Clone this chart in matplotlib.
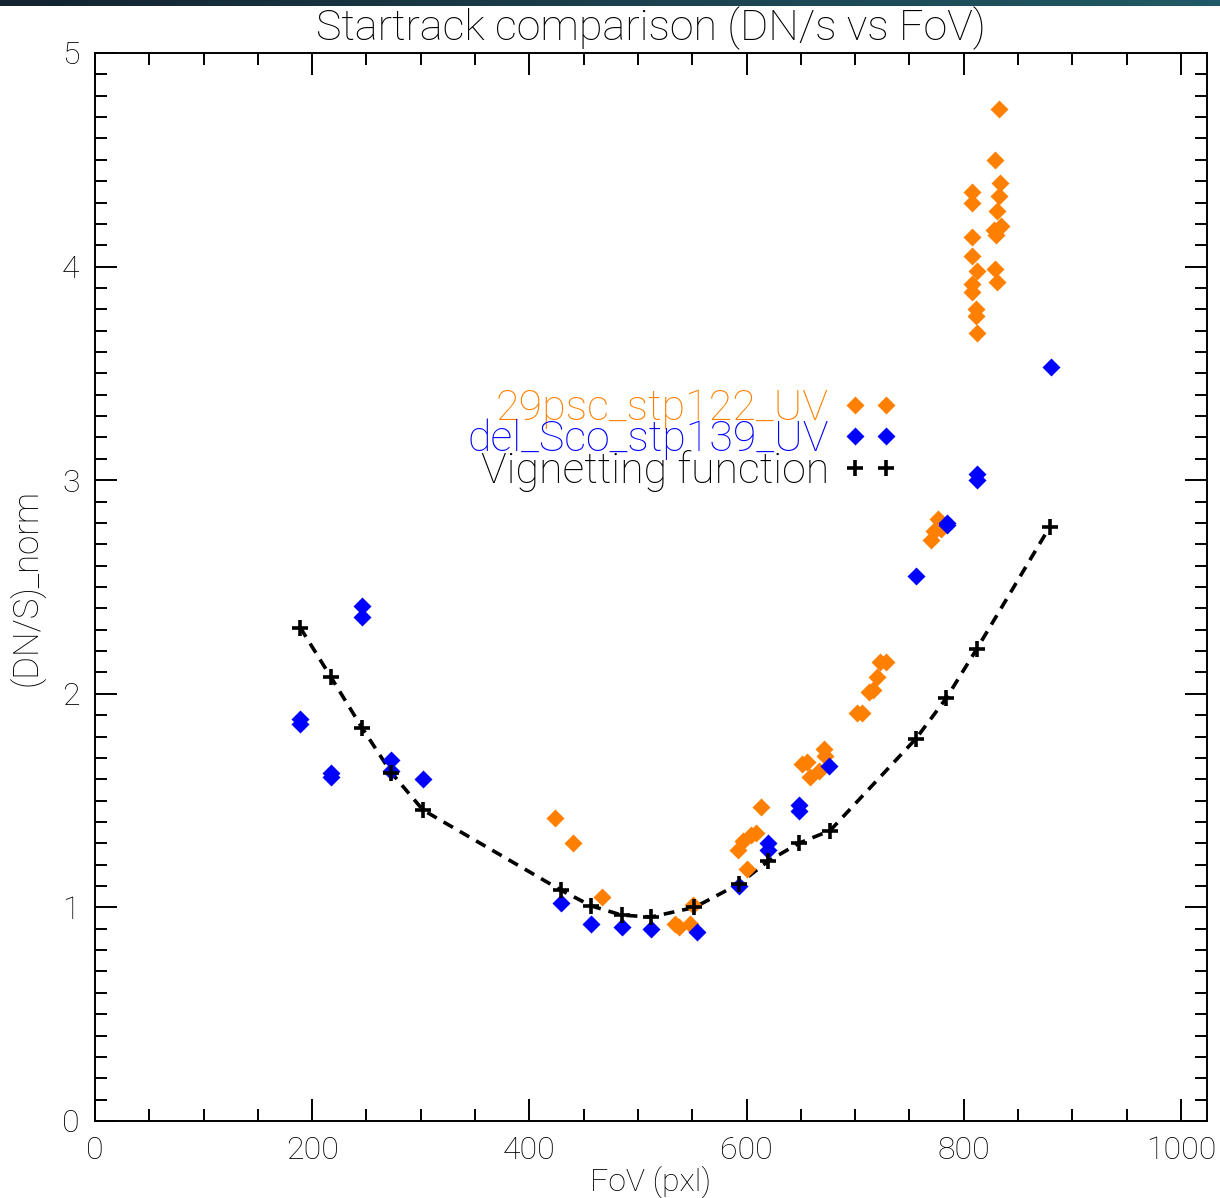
import numpy as np
import matplotlib
matplotlib.use("Agg")
import matplotlib.pyplot as plt
from matplotlib.ticker import MultipleLocator
from matplotlib.colors import LinearSegmentedColormap

# === Dados ===
# 29psc_stp122_UV
x_psc = [424, 440, 467, 534, 538, 548, 551, 592, 597, 600, 604, 609, 613,
         651, 656, 658, 667, 671, 672, 702, 706, 713, 716, 720, 723, 728,
         770, 773, 776, 779,
         808, 808, 808, 808, 812, 808, 808, 811, 811, 812,
         832, 829, 833, 832, 831, 834, 828, 830, 829, 831]
y_psc = [1.42, 1.30, 1.05, 0.92, 0.91, 0.92, 1.01, 1.27, 1.31, 1.18, 1.34, 1.35, 1.47,
         1.67, 1.68, 1.61, 1.64, 1.74, 1.71, 1.91, 1.91, 2.01, 2.02, 2.08, 2.15, 2.15,
         2.72, 2.76, 2.82, 2.77,
         4.35, 4.30, 4.14, 4.05, 3.98, 3.92, 3.88, 3.80, 3.77, 3.69,
         4.74, 4.50, 4.39, 4.33, 4.26, 4.19, 4.17, 4.15, 3.99, 3.93]

# del_Sco_stp139_UV
x_sco = [189, 189, 217, 217, 246, 246, 273, 273, 302, 429, 457, 485, 512, 554,
         593, 620, 620, 648, 648, 676, 756, 785, 785, 812, 812, 880]
y_sco = [1.88, 1.86, 1.63, 1.61, 2.41, 2.36, 1.69, 1.64, 1.60, 1.02, 0.92, 0.91, 0.90, 0.885,
         1.10, 1.27, 1.30, 1.48, 1.45, 1.66, 2.55, 2.80, 2.79, 3.03, 3.00, 3.53]

# Função de vinhetagem
x_vig = [189, 217, 246, 273, 302, 429, 457, 485, 512, 552,
         593, 620, 648, 677, 756, 784, 812, 879]
y_vig = [2.31, 2.08, 1.84, 1.63, 1.456, 1.081, 1.007, 0.964, 0.955, 1.00,
         1.11, 1.217, 1.30, 1.36, 1.79, 1.98, 2.21, 2.78]

# === Estilo ===
fonte = {"family": "Roboto", "weight": "light"}
cor_texto = "black"
cor_laranja = "#FF8000"
cor_azul = "#0000FF"

fig = plt.figure(figsize=(12.2, 11.98), dpi=100)

# faixa escura no topo
faixa = fig.add_axes([0, 1 - 6 / 1198, 1, 6 / 1198])
grad = np.linspace(0, 1, 256).reshape(1, -1)
cmap_faixa = LinearSegmentedColormap.from_list("faixa", ["#13232f", "#1b3f4c", "#205a66"])
faixa.imshow(grad, aspect="auto", cmap=cmap_faixa)
faixa.axis("off")

ax = fig.add_axes([95 / 1220, 77 / 1198, 1112 / 1220, 1068 / 1198])

ax.plot(x_vig, y_vig, color="black", lw=2.6, linestyle=(0, (3.0, 2.2)), zorder=2)
ax.plot(x_psc, y_psc, linestyle="none", marker="D", ms=8.7, color=cor_laranja,
        mec="none", label="29psc_stp122_UV", zorder=3)
ax.plot(x_sco, y_sco, linestyle="none", marker="D", ms=8.7, color=cor_azul,
        mec="none", label="del_Sco_stp139_UV", zorder=4)
ax.plot(x_vig, y_vig, linestyle="none", marker="+", ms=11, mew=2.6, color="black",
        label="Vignetting function", zorder=5)

ax.set_xlim(0, 1024)
ax.set_ylim(0, 5)

ax.xaxis.set_major_locator(MultipleLocator(200))
ax.xaxis.set_minor_locator(MultipleLocator(50))
ax.yaxis.set_major_locator(MultipleLocator(1))
ax.yaxis.set_minor_locator(MultipleLocator(0.1))
ax.tick_params(which="both", direction="in", top=True, right=True, width=1.4, color="black")
ax.tick_params(which="major", length=16, pad=11)
ax.tick_params(which="minor", length=8.6)
for s in ax.spines.values():
    s.set_linewidth(1.4)

for lbl in ax.get_xticklabels() + ax.get_yticklabels():
    lbl.set_fontsize(23)
    lbl.set_fontfamily(fonte["family"])
    lbl.set_fontweight(fonte["weight"])
    lbl.set_color(cor_texto)

ax.set_xlabel("FoV (pxl)", fontsize=23, labelpad=0, color=cor_texto, **fonte)
ax.set_ylabel("(DN/S)_norm", fontsize=25, labelpad=12, color=cor_texto, **fonte)
ax.set_title("Startrack comparison (DN/s vs FoV)", fontsize=31, pad=9, color=cor_texto, **fonte)

leg = ax.legend(loc="center right", bbox_to_anchor=(0.723, 0.6376), bbox_transform=ax.transAxes,
                markerfirst=False, numpoints=2, frameon=False, labelcolor="linecolor",
                handlelength=1.33, handletextpad=0.3, labelspacing=-0.23,
                borderpad=0, borderaxespad=0,
                prop={"size": 31, "family": fonte["family"], "weight": fonte["weight"]})

fig.savefig("out.png", dpi=100)
